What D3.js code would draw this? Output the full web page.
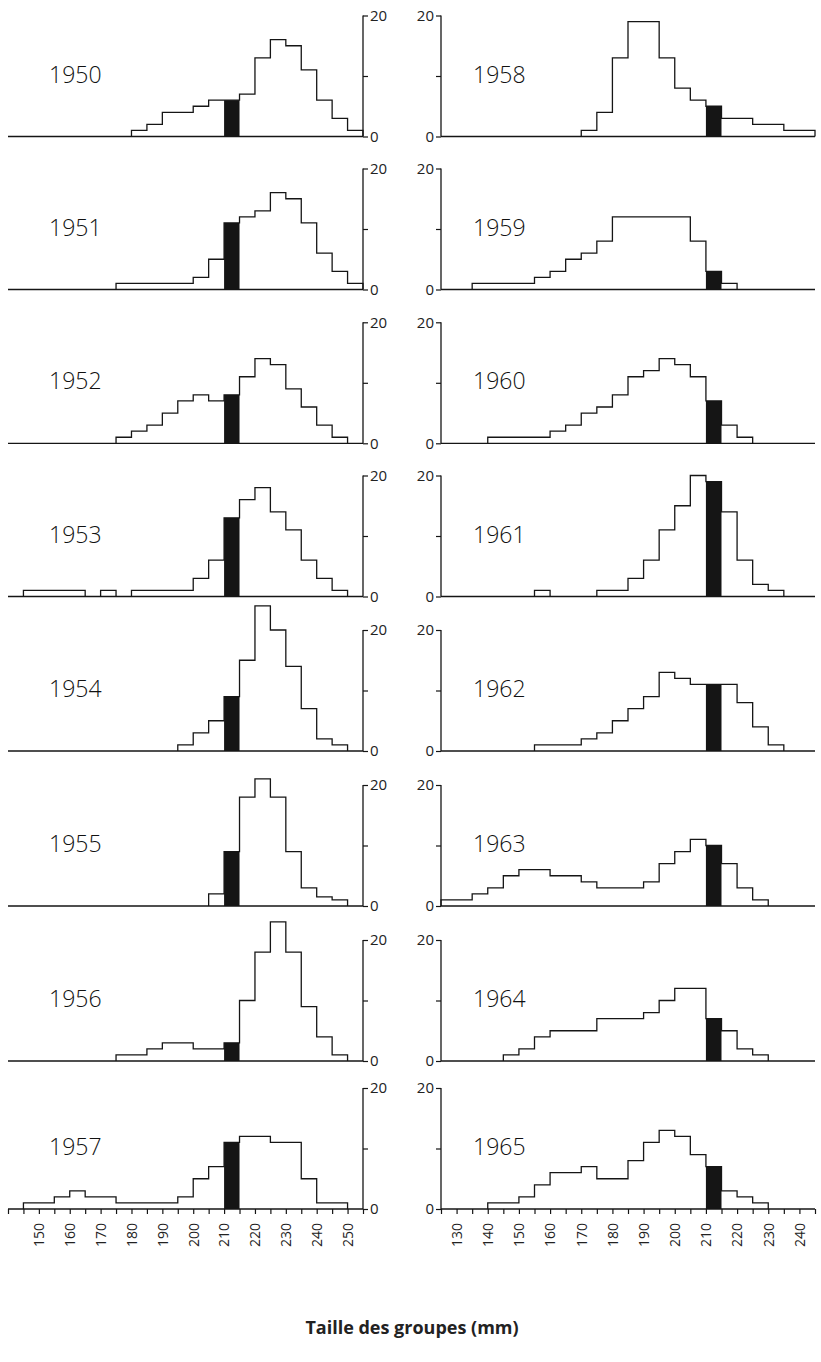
<!DOCTYPE html>
<html><head><meta charset="utf-8">
<script src="https://cdn.jsdelivr.net/npm/d3@7"></script>
<style>
body{margin:0;background:#fff;}
svg{display:block;}
</style></head><body>
<svg id="chart" width="821" height="1362"></svg>
<script>
// ---------------- DATA ----------------
const yearsLeft  = [1950,1951,1952,1953,1954,1955,1956,1957];
const yearsRight = [1958,1959,1960,1961,1962,1963,1964,1965];
const binWidth = 5;          // mm per class
const markedClass = 210;     // black class (210-215 mm)

// first class (mm) of each year's histogram
const firstClass = {
  1950:180, 1951:175, 1952:175, 1953:145, 1954:195, 1955:205, 1956:175, 1957:145,
  1958:170, 1959:135, 1960:140, 1961:155, 1962:155, 1963:125, 1964:145, 1965:140
};
// counts per 5-mm class, starting at firstClass
const c1950 = [1,2,4,4,5,6,6,7,13,16,15,11,6,3,1];
const c1951 = [1,1,1,1,1,2,5,11,12,13,16,15,11,6,3,1];
const c1952 = [1,2,3,5,7,8,7,8,11,14,13,9,6,3,1];
const c1953 = [1,1,1,1,0,1,0,1,1,1,1,3,6,13,16,18,14,11,6,3,1];
const c1954 = [1,3,5,9,15,24,20,14,7,2,1];
const c1955 = [2,9,18,21,18,9,3,1.5,1];
const c1956 = [1,1,2,3,3,2,2,3,10,18,23,18,9,4,1];
const c1957 = [1,1,2,3,2,2,1,1,1,1,2,5,7,11,12,12,11,11,5,1,1];
const c1958 = [1,4,13,19,19,13,8,6,5,3,3,2,2,1,1];
const c1959 = [1,1,1,1,2,3,5,6,8,12,12,12,12,12,8,3,1];
const c1960 = [1,1,1,1,2,3,5,6,8,11,12,14,13,11,7,3,1];
const c1961 = [1,0,0,0,1,1,3,6,11,15,20,19,14,6,2,1];
const c1962 = [1,1,1,2,3,5,7,9,13,12,11,11,11,8,4,1];
const c1963 = [1,1,2,3,5,6,6,5,5,4,3,3,3,4,7,9,11,10,7,3,1];
const c1964 = [1,2,4,5,5,5,7,7,7,8,10,12,12,7,5,2,1];
const c1965 = [1,1,2,4,6,6,7,5,5,8,11,13,12,9,7,3,2,1];

const leftTickLabels  = [150,160,170,180,190,200,210,220,230,240,250];
const rightTickLabels = [130,140,150,160,170,180,190,200,210,220,230,240];
const yTickValues = [0,10,20];
const yTickLabels = ["0","","20"];
const xTitle = "Taille des groupes (mm)";

// ---------------- BUILD ----------------
const countsByYear = {
  1950:c1950,1951:c1951,1952:c1952,1953:c1953,1954:c1954,1955:c1955,1956:c1956,1957:c1957,
  1958:c1958,1959:c1959,1960:c1960,1961:c1961,1962:c1962,1963:c1963,1964:c1964,1965:c1965
};

const svg = d3.select("#chart");
const ink = "#151515";
const font = "'Open Sans', 'DejaVu Sans', sans-serif";
const panelBase = [136.5, 289.5, 443.3, 596.5, 751, 906, 1061, 1209];
const yHeight = 121;

const xLeft  = d3.scaleLinear().domain([140,255]).range([8,363]);
const xRight = d3.scaleLinear().domain([125,245]).range([441,815]);

function drawPanel(year, i, side) {
  const x = side === "L" ? xLeft : xRight;
  const base = panelBase[i];
  const y = d3.scaleLinear().domain([0,20]).range([base, base - yHeight]);
  const g = svg.append("g");
  const vals = countsByYear[year];
  const s0 = firstClass[year];

  g.append("line")
    .attr("x1", x.range()[0]).attr("x2", x.range()[1])
    .attr("y1", base).attr("y2", base)
    .attr("stroke", ink).attr("stroke-width", 1.3);

  const mi = (markedClass - s0) / binWidth;
  if (mi >= 0 && mi < vals.length && vals[mi] > 0) {
    g.append("rect")
      .attr("x", x(markedClass)).attr("width", x(markedClass + binWidth) - x(markedClass))
      .attr("y", y(vals[mi])).attr("height", base - y(vals[mi]))
      .attr("fill", ink);
  }

  let d = "";
  let open = false;
  vals.forEach((v, k) => {
    const a = s0 + k * binWidth, b = a + binWidth;
    if (v > 0) {
      if (!open) { d += `M${x(a)},${base}`; open = true; }
      d += `V${y(v)}H${x(b)}`;
      const next = vals[k + 1];
      if (!(next > 0)) { d += `V${base}`; open = false; }
    }
  });
  g.append("path").attr("d", d).attr("fill", "none")
    .attr("stroke", ink).attr("stroke-width", 1.3);

  const axX = side === "L" ? x.range()[1] : x.range()[0];
  const ax = side === "L" ? d3.axisRight(y) : d3.axisLeft(y);
  ax.tickValues(yTickValues).tickFormat((v, k) => yTickLabels[k]).tickSize(5).tickPadding(2);
  const ag = g.append("g").attr("transform", `translate(${axX},0)`).call(ax);
  ag.select(".domain").attr("stroke", ink).attr("stroke-width", 1.3)
    .attr("d", `M0,${base}V${base - yHeight}`);
  ag.selectAll(".tick line").attr("stroke", ink).attr("stroke-width", 1.2);
  ag.selectAll(".tick text").attr("fill", "#222").attr("font-size", 15)
    .attr("font-family", font);

  g.append("text")
    .attr("x", side === "L" ? 49 : 473).attr("y", base - 54)
    .attr("font-size", 23).attr("font-weight", 300).attr("fill", "#111")
    .attr("font-family", font)
    .text(year);
}

yearsLeft.forEach((yr, i) => drawPanel(yr, i, "L"));
yearsRight.forEach((yr, i) => drawPanel(yr, i, "R"));

function bottomAxis(x, labels, base) {
  const lo = Math.ceil(x.domain()[0] / 5) * 5, hi = x.domain()[1];
  const ticks = d3.range(lo, hi + 0.1, 5);
  const ax = d3.axisBottom(x).tickValues(ticks).tickSize(5)
    .tickFormat(v => labels.includes(v) ? v : "");
  const g = svg.append("g").attr("transform", `translate(0,${base})`).call(ax);
  g.select(".domain").remove();
  g.selectAll(".tick line").attr("stroke", ink).attr("stroke-width", 1.2);
  g.selectAll(".tick text")
    .attr("font-size", 14).attr("fill", "#222")
    .attr("font-family", font)
    .attr("transform", "rotate(-90)")
    .attr("text-anchor", "end").attr("dy", "0.35em")
    .attr("x", -14).attr("y", 0);
}
bottomAxis(xLeft, leftTickLabels, panelBase[7]);
bottomAxis(xRight, rightTickLabels, panelBase[7]);

svg.append("text")
  .attr("x", 412).attr("y", 1334).attr("text-anchor", "middle")
  .attr("font-size", 18).attr("font-weight", "bold").attr("fill", "#222")
  .attr("font-family", font)
  .text(xTitle);
</script>
</body></html>
